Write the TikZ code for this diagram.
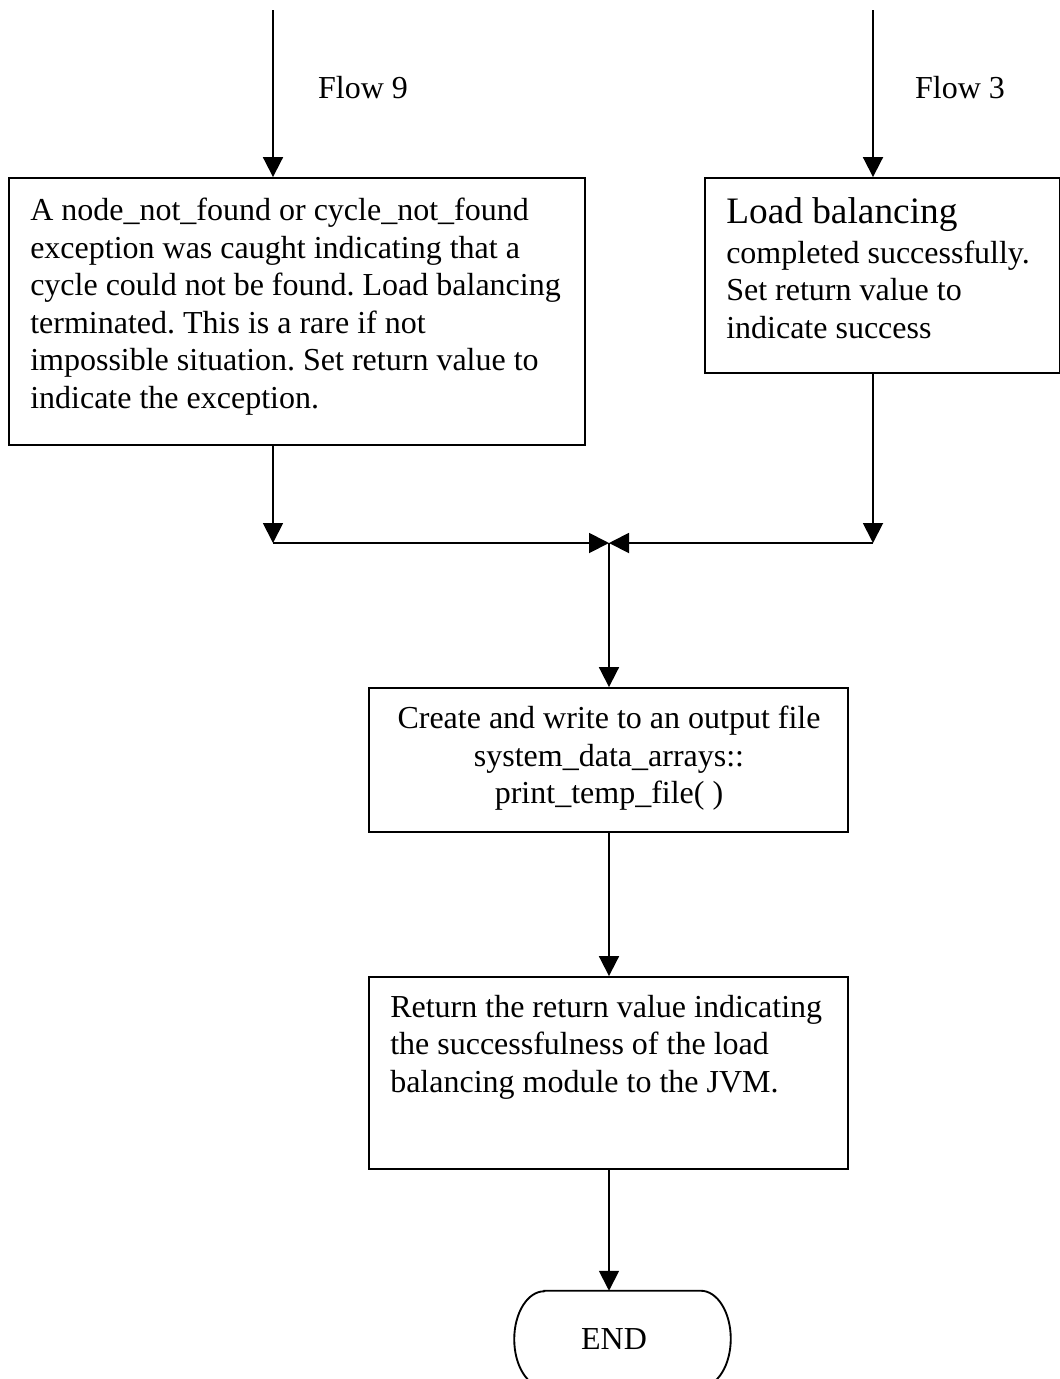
\documentclass[tikz,border=0pt]{standalone}
\usepackage{fontspec}
\setmainfont{Liberation Serif}
\usetikzlibrary{arrows.meta,calc}
\frenchspacing
\begin{document}
\begin{tikzpicture}[x=0.75pt,y=-0.75pt,
  line/.style={line width=1.4pt,draw=black},
  arr/.style={line,-{Triangle[length=15pt,width=15pt]}},
  box/.style={line,rectangle,inner sep=0pt},
  txt/.style={inner sep=0pt,font=\fontsize{24}{28.1}\selectfont},
]
\useasboundingbox (0,0) rectangle (1060,1379);

% process boxes
\node[box,minimum width=576*0.75pt,minimum height=267*0.75pt] (b1) at (297,311.5) {};
\node[box,minimum width=355*0.75pt,minimum height=195*0.75pt] (b2) at (882.5,275.5) {};
\node[box,minimum width=479*0.75pt,minimum height=144*0.75pt] (b3) at (608.5,760) {};
\node[box,minimum width=479*0.75pt,minimum height=192*0.75pt] (b4) at (608.5,1073) {};

% box texts
\node[txt,anchor=north west,align=left] (t1) at (30,198) {A node\_not\_found or cycle\_not\_found\\
exception was caught indicating that a\\
cycle could not be found. Load balancing\\
terminated. This is a rare if not\\
impossible situation. Set return value to\\
indicate the exception.};
\node[txt,anchor=north west,align=left] (t2) at (726,197) {{\fontsize{28}{30}\selectfont Load balancing}\\[2pt]
completed successfully.\\
Set return value to\\
indicate success};
\node[txt,anchor=north,align=center] (t3) at (609,706) {Create and write to an output file\\
system\_data\_arrays::\\
print\_temp\_file( )};
\node[txt,anchor=north west,align=left] (t4) at (390,995) {Return the return value indicating\\
the successfulness of the load\\
balancing module to the JVM.};

% flow labels
\node[txt] (f9) at (363,88) {Flow 9};
\node[txt] (f3) at (960,88) {Flow 3};

% terminator (outline sits slightly right of its label)
\node[txt,minimum width=216*0.75pt,minimum height=96*0.75pt] (end) at (614,1339) {END};
\draw[line] ([xshift=38.5*0.75pt]end.north west) -- ([xshift=-21.5*0.75pt]end.north east)
  arc[start angle=90,end angle=-90,x radius=22.5pt,y radius=36pt]
  -- ([xshift=38.5*0.75pt]end.south west)
  arc[start angle=270,end angle=90,x radius=22.5pt,y radius=36pt] -- cycle;

% connector points
\coordinate (in9) at (273,10);
\coordinate (in3) at (873,10);
\coordinate (j1) at (273,543);
\coordinate (j3) at (873,543);
\coordinate (jm) at (609,543);

% connectors
\draw[arr] (in9) -- (in9 |- b1.north);
\draw[arr] (in3) -- (in3 |- b2.north);
\draw[arr] (j1 |- b1.south) -- (j1);
\draw[arr] (j3 |- b2.south) -- (j3);
\draw[arr] (j1) -- (jm);
\draw[arr] (j3) -- (jm);
\draw[arr] (jm) -- (jm |- b3.north);
\draw[arr] (jm |- b3.south) -- (jm |- b4.north);
\draw[arr] (jm |- b4.south) -- (jm |- end.north);
\end{tikzpicture}
\end{document}
